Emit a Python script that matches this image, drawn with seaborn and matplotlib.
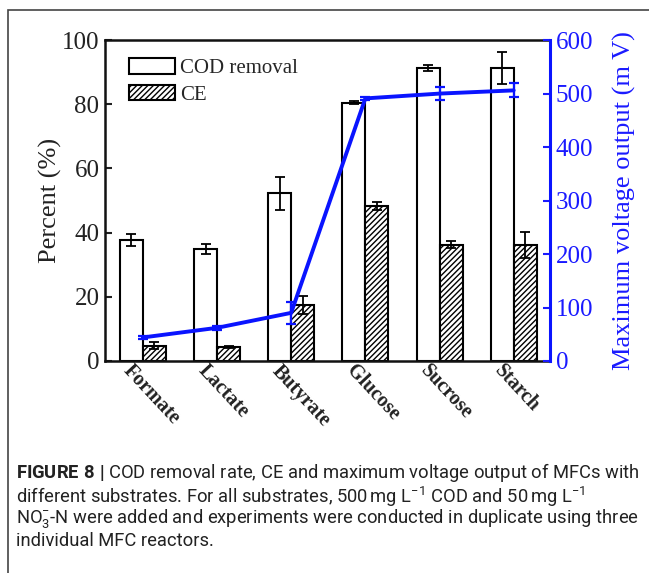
import numpy as np
import pandas as pd
import seaborn as sns
import matplotlib.pyplot as plt
import matplotlib.transforms as mtransforms
from matplotlib.patches import Rectangle

substrates = ['Formate', 'Lactate', 'Butyrate', 'Glucose', 'Sucrose', 'Starch']
cod_removal = [37.7, 34.8, 52.2, 80.5, 91.3, 91.3]
cod_err = [2.0, 1.6, 5.0, 0.4, 1.0, 5.0]
ce = [4.8, 4.5, 17.4, 48.3, 36.3, 36.1]
ce_err = [1.2, 0.3, 2.7, 1.2, 1.2, 4.0]
voltage = [44, 62, 90, 491, 500, 506]
voltage_err = [2, 4, 20, 3, 12, 13]

caption = [
    r'$\mathbf{FIGURE\ 8\ |}$ COD removal rate, CE and maximum voltage output of MFCs with',
    r'different substrates. For all substrates, 500$\,$mg L$^{-1}$ COD and 50$\,$mg L$^{-1}$',
    r'NO$_{3}^{-}$-N were added and experiments were conducted in duplicate using three',
    'individual MFC reactors.',
]

sns.set_theme(style='ticks')
plt.rcParams['font.family'] = ['Liberation Serif', 'DejaVu Serif']
plt.rcParams['mathtext.fontset'] = 'custom'
plt.rcParams['mathtext.rm'] = 'Roboto'
plt.rcParams['mathtext.bf'] = 'Roboto:bold'
plt.rcParams['mathtext.it'] = 'Roboto:italic'
plt.rcParams['hatch.linewidth'] = 1.0

data = pd.DataFrame({
    'substrate': substrates * 2,
    'value': cod_removal + ce,
    'metric': ['COD removal'] * 6 + ['CE'] * 6,
})

fig = plt.figure(figsize=(6.49, 5.73), dpi=100)
fig.patch.set_facecolor('white')
ax = fig.add_axes([0.1618, 0.370, 0.6857, 0.560])

sns.barplot(data, x='substrate', y='value', hue='metric', palette=['white', 'white'],
            edgecolor='black', linewidth=1.5, width=0.62, gap=0, errorbar=None, ax=ax)

# hatch CE bars, add error bars at the bar centres
bars = [p for p in ax.patches if p.get_height() > 0]
cod_bars = bars[:6]
ce_bars = bars[6:12]
for p in ce_bars:
    p.set_hatch('//////')
cx = [p.get_x() + p.get_width() / 2 for p in cod_bars]
ex = [p.get_x() + p.get_width() / 2 for p in ce_bars]
ax.errorbar(cx, cod_removal, yerr=cod_err, fmt='none', ecolor='black', elinewidth=1.3, capsize=3.5, capthick=1.3)
ax.errorbar(ex, ce, yerr=ce_err, fmt='none', ecolor='black', elinewidth=1.3, capsize=3.5, capthick=1.3)

ax.set_ylim(0, 100)
ax.set_xlim(-0.51, 5.49)
ax.set_yticks([0, 20, 40, 60, 80, 100])
ax.set_ylabel('Percent (%)', fontsize=19, color='#222222', labelpad=0)
ax.set_xlabel('')
ax.tick_params(axis='y', direction='in', length=5, width=1.5, labelsize=18, colors='#222222', pad=4)
ax.tick_params(axis='x', length=0, pad=5)
ax.set_xticks(range(6))
ax.set_xticklabels(substrates, rotation=-47, ha='left', va='center', rotation_mode='anchor',
                   fontsize=14.5, fontweight='bold', color='#222222')
shift = mtransforms.ScaledTranslation(-16 / 100, 0, fig.dpi_scale_trans)
for lbl in ax.get_xticklabels():
    lbl.set_transform(lbl.get_transform() + shift)
for s in ['left', 'bottom', 'top']:
    ax.spines[s].set_linewidth(1.8)
    ax.spines[s].set_color('#111111')
ax.spines['right'].set_visible(False)

leg = ax.legend(loc='upper left', bbox_to_anchor=(0.035, 0.97), frameon=False, fontsize=15,
                handlelength=2.2, handleheight=0.8, handletextpad=0.25, labelspacing=0.3,
                borderaxespad=0)
for h in leg.legend_handles:
    h.set_edgecolor('black')
    h.set_linewidth(1.5)
leg.legend_handles[1].set_hatch('//////')

# voltage on secondary axis
ax2 = ax.twinx()
sns.lineplot(x=range(6), y=voltage, ax=ax2, color='#0a14ff', linewidth=2.8)
ax2.errorbar(range(6), voltage, yerr=voltage_err, fmt='none', ecolor='#0a14ff',
             elinewidth=1.6, capsize=3.5, capthick=1.6)
ax2.set_ylim(0, 600)
ax2.set_yticks(range(0, 700, 100))
ax2.set_ylabel('Maximum voltage output (m V)', fontsize=19, color='#1a1aff', labelpad=14)
ax2.tick_params(axis='y', direction='in', length=5, width=1.5, labelsize=18, colors='#1a1aff', pad=4)
ax2.spines['right'].set_color('#0a14ff')
ax2.spines['right'].set_linewidth(2.2)
for s in ['left', 'bottom', 'top']:
    ax2.spines[s].set_visible(False)

# outer frame of the figure panel
fig.patches.append(Rectangle((8 / 649, -0.05), 1.2, 1.05 - 10 / 573, transform=fig.transFigure,
                             fill=False, edgecolor='#444444', linewidth=1.2))

cap_y = [1 - 473 / 573, 1 - 497 / 573, 1 - 519 / 573, 1 - 541 / 573]
for txt, y in zip(caption, cap_y):
    fig.text(16 / 649, y, txt, fontsize=13.2, family=['Roboto', 'DejaVu Sans'],
             color='#222222', va='center', ha='left')

fig.savefig('out.png', dpi=100, facecolor='white')
